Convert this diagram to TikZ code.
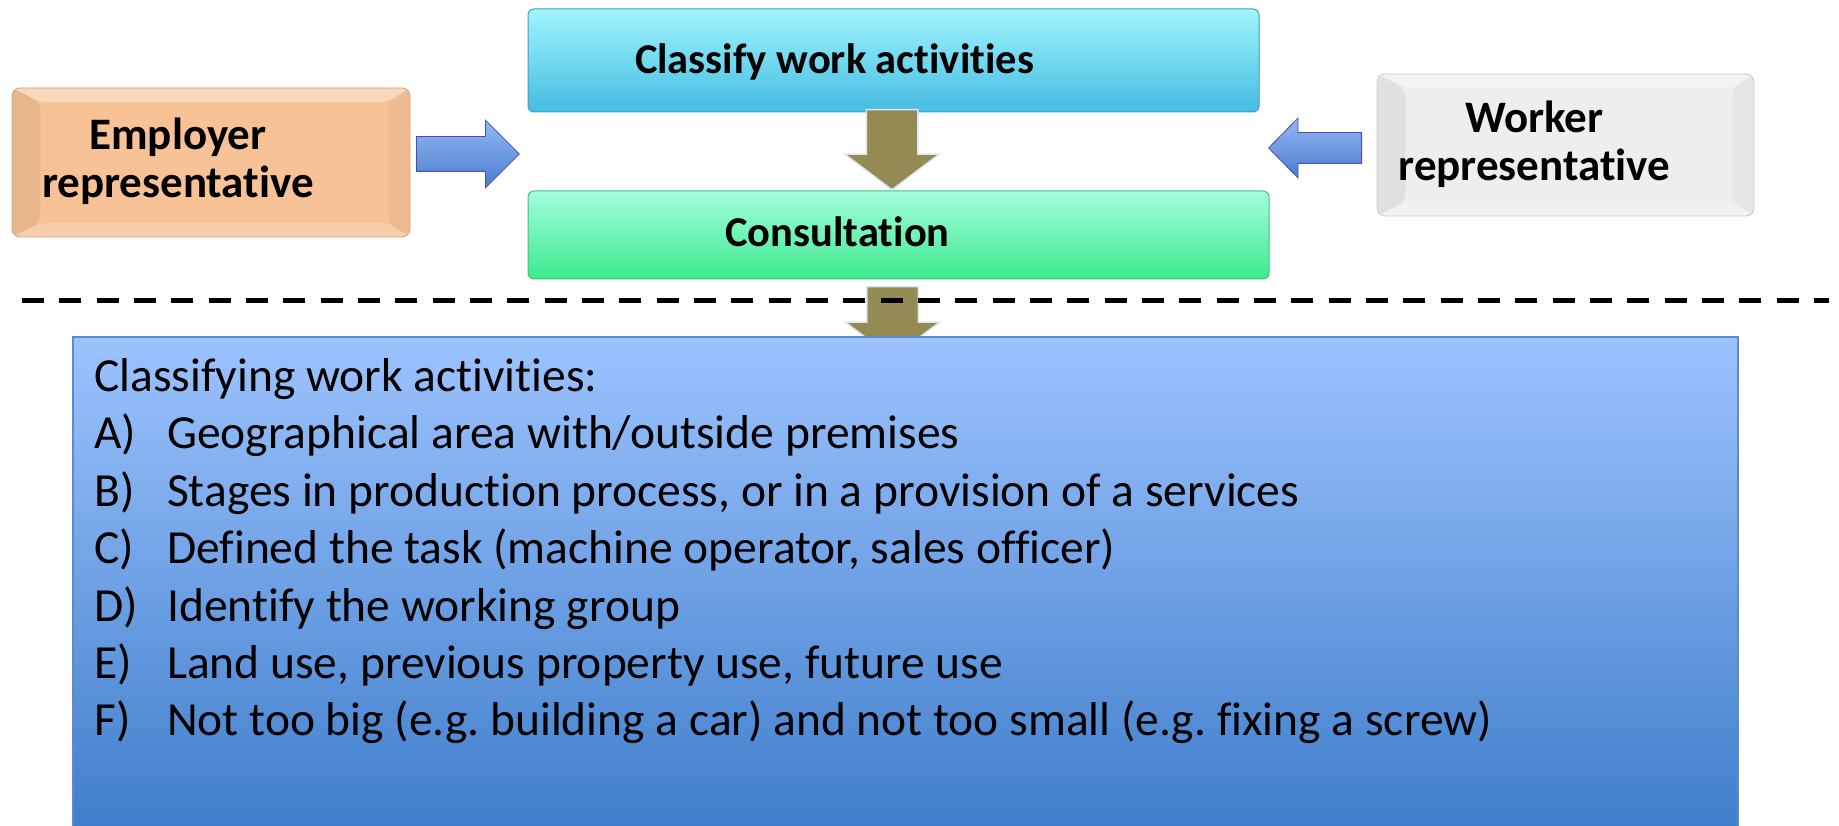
\documentclass[tikz,border=0pt]{standalone}
\usepackage{fontspec}
\setmainfont{Carlito}[Ligatures=NoCommon]
\frenchspacing
\usetikzlibrary{calc,positioning,shapes.arrows}

\definecolor{peach}{HTML}{F6C296}
\definecolor{paper}{HTML}{EEEEEE}
\definecolor{olive}{HTML}{948A54}
\definecolor{classtop}{HTML}{A0F5FD}
\definecolor{classbot}{HTML}{44BCE2}
\definecolor{constop}{HTML}{A3FDDC}
\definecolor{consbot}{HTML}{3EE98F}
\definecolor{listtop}{HTML}{9DC3FE}
\definecolor{listbot}{HTML}{3F7ECB}
\definecolor{listedge}{HTML}{5B8BCB}

\tikzset{
  bevel/.style={draw=#1!85!black, line width=0.8, fill=#1, rounded corners=8,
    path picture={
      \path (path picture bounding box.north west) coordinate (pnw)
            (path picture bounding box.south east) coordinate (pse);
      \fill[white, opacity=.35] (pnw) -- (pnw -| pse) -- ($(pnw -| pse)+(-22,14)$) -- ($(pnw)+(28,14)$) -- cycle;
      \fill[black, opacity=.06] (pnw) -- ($(pnw)+(28,14)$) -- ($(pse -| pnw)+(28,-14)$) -- (pse -| pnw) -- cycle;
      \fill[black, opacity=.03] (pnw -| pse) -- (pse) -- ($(pse)+(-22,-14)$) -- ($(pnw -| pse)+(-22,14)$) -- cycle;
      \fill[white, opacity=.2] (pse -| pnw) -- (pse) -- ($(pse)+(-22,-14)$) -- ($(pse -| pnw)+(28,-14)$) -- cycle;
    }},
  glossy/.style 2 args={draw=#2!85!black, line width=1, rounded corners=6, top color=#1, bottom color=#2},
  blockarrow/.style={single arrow, minimum width=0, inner sep=#1, anchor=tail},
  bluearrow/.style={blockarrow=#1, draw=blue!40!gray, line width=0.8, top color={rgb,255:red,148;green,184;blue,244}, bottom color={rgb,255:red,74;green,125;blue,205}},
  olivearrow/.style={blockarrow=#1, draw={rgb,255:red,220;green,230;blue,240}, line width=1.5, fill=olive},
  lbl/.style={font=\bfseries\fontsize{42.5}{48.5}\selectfont, inner sep=0, align=center},
  sidelbl/.style={lbl, font=\bfseries\fontsize{45}{48.5}\selectfont}
}

\begin{document}
\begin{tikzpicture}[x=1pt, y=-1pt]
  \useasboundingbox (0,0) rectangle (1839,826);

  % side boxes
  \node[bevel=peach, minimum width=398, minimum height=149] (employer) at (211,162.5) {};
  \node[bevel=paper, minimum width=377, minimum height=142] (worker) at (1565.5,145) {};

  % middle boxes
  \node[glossy={classtop}{classbot}, minimum width=731, minimum height=103] (classify) at (893.5,60.5) {};
  \node[glossy={constop}{consbot}, minimum width=741, minimum height=88] (consult) at (898.5,235) {};

  \node[lbl, anchor=base] (classifytext) at (834.5,74) {Classify work activities};
  \node[lbl, anchor=base] (consulttext) at (837.5,247) {Consultation};
  \node[sidelbl, anchor=base] (employertext) at (178,198) {Employer\\representative};
  \node[sidelbl, anchor=base] (workertext) at (1534.5,181) {Worker\\representative};

  % arrows
  \node[bluearrow=17, minimum height=103, single arrow head extend=16.5] (emparrow) at (416,154) {};
  \node[bluearrow=15, minimum height=93, single arrow head extend=14.5, single arrow tip angle=91, shape border rotate=180] (workarrow) at (1362,148) {};
  \node[olivearrow=25, minimum height=80, single arrow head extend=21.5, single arrow tip angle=106, shape border rotate=270] (downarrow) at (892,109) {};
  \node[olivearrow=25, minimum height=67, single arrow head extend=21.5, single arrow tip angle=106, shape border rotate=270] (outarrow) at (892.5,286) {};

  % separator
  \coordinate (sepleft) at (22,300.7);
  \coordinate (sepright) at (1829,300.7);
  \draw[line width=5.3, dash pattern=on 22 off 15.33] (sepleft) -- (sepright);

  % list box
  \node[draw=listedge, line width=2.5, top color=listtop, bottom color=listbot,
        minimum width=1665, minimum height=493] (listbox) at (905.5,583.5) {};
  \node[anchor=base west, inner sep=0, font=\fontsize{47.5}{57.4}\selectfont] (listtext) at (94,391.5) {%
    \begin{tabular}[t]{@{}p{73pt}@{}l@{}}
      \multicolumn{2}{@{}l@{}}{Classifying work activities:}\\
      A) & Geographical area with/outside premises\\
      B) & Stages in production process, or in a provision of a services\\
      C) & Defined the task (machine operator, sales officer)\\
      D) & Identify the working group\\
      E) & Land use, previous property use, future use\\
      F) & Not too big (e.g. building a car) and not too small (e.g. fixing a screw)
    \end{tabular}};
\end{tikzpicture}
\end{document}
